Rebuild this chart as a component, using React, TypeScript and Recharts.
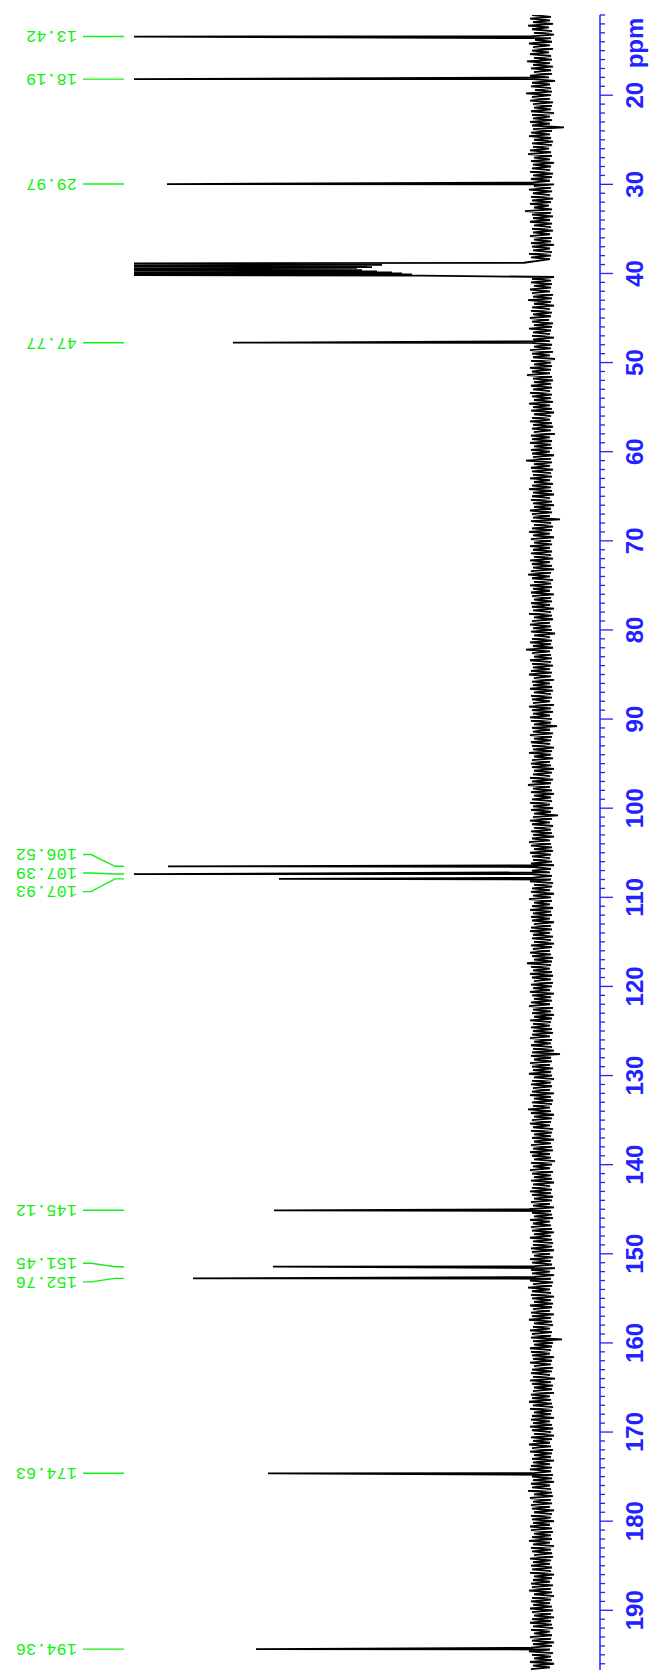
import React from 'react';
import { ComposedChart, Line, Scatter, XAxis, YAxis } from 'recharts';

// ---------- data ----------
// 13C peaks (ppm) and their drawn intensities (408 = clipped at the plot edge)
const peakPpm = [13.42, 18.19, 29.97, 47.77, 106.52, 107.39, 107.93, 145.12, 151.45, 152.76, 174.63, 194.36];
const peakIntensity = [408, 408, 375, 309, 374, 408, 263, 268, 269, 349, 274, 286];

// DMSO-d6 solvent multiplet: densely sampled, clipped trace
const solventPpm = [
  38.8, 38.86, 38.92, 38.98, 39.04, 39.1, 39.16, 39.22, 39.28, 39.34, 39.4, 39.46, 39.52,
  39.58, 39.64, 39.7, 39.76, 39.82, 39.88, 39.94, 40.0, 40.06, 40.12, 40.18, 40.24,
];
const solventIntensity = [
  18, 408, 168, 408, 160, 408, 175, 408, 170, 408, 185, 408, 190,
  408, 180, 408, 165, 408, 150, 408, 140, 408, 130, 408, 120,
];
const solventGap = [38.5, 40.35];

// baseline noise, sampled every 0.2 ppm starting at 11.0 ppm
const noiseStart = 11.0;
const noiseStep = 0.2;
const noise = [
  10,-9,12,-8,9,-11,14,-7,10,-10,8,-12,11,-9,7,-10,13,-8,9,-11,10,-7,12,-9,8,-10,15,-8,9,-11,
  11,-9,8,-10,12,-7,9,-13,10,-8,11,-9,7,-10,16,-9,10,-8,12,-11,9,-10,8,-9,11,-12,10,-8,9,-10,
  12,-8,10,-22,9,-10,11,-8,13,-9,8,-11,10,-10,9,-7,12,-9,14,-10,8,-8,11,-12,9,-9,10,-8,12,-11,
  9,-10,11,-8,10,-12,8,-9,13,-10,9,-8,11,-11,10,-9,12,-7,8,-10,17,-9,10,-11,9,-8,12,-10,8,-9,
  10,-11,9,-8,12,-10,8,-9,11,-12,10,-8,9,-10,13,-9,11,-8,9,-9,9,-9,9,-9,9,-9,9,-12,10,-9,
  11,-10,8,-9,12,-8,10,-11,9,-10,14,-9,8,-12,10,-8,11,-10,9,-9,12,-7,10,-11,8,-10,13,-9,9,-8,
  10,-12,9,-8,11,-10,8,-9,12,-11,10,-8,9,-13,11,-9,8,-10,12,-9,10,-8,15,-10,9,-11,8,-9,11,-10,
  9,-8,12,-10,10,-9,8,-11,13,-8,9,-10,11,-12,8,-9,10,-8,12,-10,9,-11,10,-9,8,-13,11,-8,10,-10,
  12,-9,8,-10,11,-8,10,-12,9,-9,16,-10,8,-8,11,-11,10,-9,9,-10,12,-8,8,-11,10,-9,13,-10,9,-12,
  10,-8,11,-10,9,-12,8,-9,12,-10,10,-8,9,-18,11,-9,8,-11,10,-10,13,-8,9,-12,11,-9,8,-10,12,-8,
  9,-10,11,-9,8,-11,12,-8,10,-10,9,-12,11,-9,14,-8,10,-11,8,-9,12,-10,9,-8,11,-12,10,-9,8,-10,
  11,-8,10,-12,9,-9,13,-10,8,-11,10,-8,12,-9,9,-10,11,-13,8,-8,10,-10,12,-9,9,-11,16,-8,10,-9,
  8,-10,12,-9,10,-11,9,-8,11,-10,13,-9,8,-12,10,-8,9,-10,12,-11,8,-9,11,-10,10,-8,9,-12,13,-9,
  10,-11,9,-8,12,-10,11,-9,8,-15,10,-8,9,-11,12,-10,8,-9,11,-8,10,-12,9,-10,13,-9,8,-11,10,-8,
  11,-9,10,-12,8,-10,9,-8,12,-11,10,-9,14,-8,9,-10,11,-12,8,-9,10,-10,12,-8,9,-11,11,-9,8,-16,
  9,-10,12,-8,10,-11,8,-9,11,-10,9,-12,10,-8,13,-9,11,-10,8,-11,12,-9,10,-8,9,-10,11,-12,8,-9,
  10,-8,11,-10,9,-9,12,-11,8,-10,10,-8,11,-12,9,-9,13,-10,8,-8,10,-11,12,-9,9,-10,11,-8,10,-12,
  8,-9,11,-10,12,-8,9,-11,10,-9,8,-12,11,-10,9,-8,12,-9,10,-11,8,-10,15,-9,11,-8,9,-10,12,-11,
  10,-9,8,-11,11,-10,9,-8,12,-12,10,-9,8,-10,11,-8,13,-11,9,-9,10,-12,8,-10,12,-9,9,-8,11,-10,
  9,-11,10,-8,12,-10,8,-9,11,-10,9,-12,10,-18,11,-9,8,-10,12,-8,10,-11,9,-9,13,-10,8,-12,10,-9,
  11,-10,9,-8,10,-12,12,-9,8,-11,10,-10,9,-8,14,-9,11,-12,8,-10,10,-9,12,-8,9,-11,11,-10,8,-9,
  10,-12,8,-9,11,-10,9,-11,12,-8,10,-9,8,-13,11,-10,9,-8,12,-11,10,-9,8,-10,11,-12,9,-8,10,-10,
  12,-9,10,-11,8,-10,11,-8,9,-12,13,-9,10,-10,8,-11,12,-8,9,-9,11,-10,10,-12,8,-9,12,-10,9,-11,
  9,-10,11,-12,10,-8,8,-11,12,-9,10,-10,9,-13,11,-8,10,-12,8,-9,12,-11,9,-10,14,-8,10,-9,11,-12,
  10,-9,8,-11,12,-10,9,-8,11,-12,10,-9,13,-10,8,-11,9,-8,12,-10,10,-9,11,-20,9,-11,8,-10,12,-9,
  11,-8,10,-12,9,-10,12,-9,8,-11,10,-10,11,-8,9,-13,12,-9,10,-11,8,-10,9,-12,11,-8,10,-9,13,-10,
  9,-11,12,-10,8,-9,10,-12,11,-8,9,-10,12,-11,10,-9,8,-12,11,-10,9,-8,13,-9,10,-11,12,-10,8,-9,
  10,-12,9,-8,11,-10,12,-9,8,-11,10,-10,9,-12,11,-8,10,-9,14,-10,8,-11,12,-9,9,-10,11,-8,10,-12,
  8,-10,11,-9,10,-12,9,-8,12,-10,11,-11,8,-9,10,-10,13,-8,9,-12,11,-9,10,-10,8,-11,12,-9,9,-8,
  11,-10,10,-9,12,-12,8,-10,9,-8,11,-11,10,-9,13,-10,8,-12,10,-9,11,-8,9,-10,12,-11,10,-9,8,-12,
  10,-9,12,-10,9,-11,11,-8,8,-10,12,-9,10,-12,9,-10,11,-8,13,-11,10,-9,8,-10,12,-12,9,-8,11,-10,
];

// axis ticks (ppm)
const majorTicks = [20, 30, 40, 50, 60, 70, 80, 90, 100, 110, 120, 130, 140, 150, 160, 170, 180, 190];
const ppmDomain = [11, 196.7];
const axisTitle = 'ppm';

// ---------- styles / layout ----------
const BLUE = '#2222ff';
const GREEN = '#14f014';
const W = 652;
const H = 1670;
const LABEL_GAP_PPM = 2.08;
const LABEL_V = 465; // text anchor column (intensity units)
const LEADER_V = [459, 451, 427, 418];

// ---------- derived tables ----------
type Row = { ppm: number; v: number };

const spectrum: Row[] = (() => {
  const rows: Row[] = [];
  noise.forEach((val, i) => {
    const p = +(noiseStart + i * noiseStep).toFixed(3);
    if (p > solventGap[0] && p < solventGap[1]) return;
    rows.push({ ppm: p, v: val });
  });
  peakPpm.forEach((p, i) => rows.push({ ppm: p, v: peakIntensity[i] }));
  solventPpm.forEach((p, i) => rows.push({ ppm: p, v: solventIntensity[i] }));
  rows.sort((a, b) => a.ppm - b.ppm);
  return rows;
})();

function layoutLabels(ppms: number[], gap: number): number[] {
  let clusters = ppms.map((p, i) => ({ start: i, end: i, center: p }));
  let changed = true;
  while (changed) {
    changed = false;
    for (let k = 0; k < clusters.length - 1; k++) {
      const a = clusters[k];
      const b = clusters[k + 1];
      const aBottom = a.center + ((a.end - a.start) / 2) * gap;
      const bTop = b.center - ((b.end - b.start) / 2) * gap;
      if (bTop - aBottom < gap) {
        const members = ppms.slice(a.start, b.end + 1);
        const mean = members.reduce((s, x) => s + x, 0) / members.length;
        clusters.splice(k, 2, { start: a.start, end: b.end, center: mean });
        changed = true;
        break;
      }
    }
  }
  const out = [...ppms];
  clusters.forEach((c) => {
    const n = c.end - c.start + 1;
    for (let i = 0; i < n; i++) out[c.start + i] = c.center + (i - (n - 1) / 2) * gap;
  });
  return out;
}

const labelPpm = layoutLabels(peakPpm, LABEL_GAP_PPM);

const labelData = peakPpm.map((p, i) => ({ ppm: labelPpm[i], v: LABEL_V, text: p.toFixed(2) }));

const leaders: Row[][] = peakPpm.map((p, i) => [
  { ppm: labelPpm[i], v: LEADER_V[0] },
  { ppm: labelPpm[i], v: LEADER_V[1] },
  { ppm: p, v: LEADER_V[2] },
  { ppm: p, v: LEADER_V[3] },
]);

const allTicks: number[] = [];
for (let t = Math.ceil(ppmDomain[0]); t <= Math.floor(ppmDomain[1]); t++) allTicks.push(t);

// ---------- render helpers ----------
const AxisTick = (props: any) => {
  const { x, y, payload } = props;
  const val = payload.value as number;
  const major = majorTicks.includes(val);
  return (
    <g>
      <line x1={x} y1={y} x2={x + (major ? 13 : 5)} y2={y} stroke={BLUE} strokeWidth={1.3} />
      {major && (
        <text
          transform={`translate(${x + 43},${y}) rotate(-90)`}
          textAnchor="middle"
          fill={BLUE}
          fontSize={24}
          fontWeight="bold"
          fontFamily="'Liberation Sans', Arial, sans-serif"
        >
          {val}
        </text>
      )}
    </g>
  );
};

const AxisTitle = (props: any) => {
  const vb = props.viewBox || { x: 600, y: 15 };
  return (
    <text
      transform={`translate(${vb.x + 43},${vb.y + 28}) rotate(-90)`}
      textAnchor="middle"
      fill={BLUE}
      fontSize={24}
      fontWeight="bold"
      fontFamily="'Liberation Sans', Arial, sans-serif"
    >
      {axisTitle}
    </text>
  );
};

const PeakLabel = (props: any) => {
  const { cx, cy, payload } = props;
  if (cx == null || cy == null) return null;
  return (
    <text
      x={cx}
      y={cy + 5.2}
      transform={`rotate(180, ${cx}, ${cy})`}
      textAnchor="start"
      fill={GREEN}
      fontSize={17}
      fontFamily="'Liberation Mono', 'Courier New', monospace"
    >
      {payload.text}
    </text>
  );
};

export default function App() {
  return (
    <div style={{ position: 'absolute', left: 0, top: 0, width: W, height: H, background: '#fff' }}>
      <ComposedChart
        layout="vertical"
        width={W}
        height={H}
        margin={{ top: 15, right: 0, bottom: 0, left: 0 }}
      >
        <XAxis type="number" dataKey="v" domain={[-58, 542]} reversed hide allowDataOverflow />
        <YAxis
          type="number"
          dataKey="ppm"
          orientation="right"
          domain={ppmDomain}
          allowDataOverflow
          width={52}
          ticks={allTicks}
          interval={0}
          tickSize={0}
          tickMargin={0}
          tickLine={false}
          axisLine={{ stroke: BLUE, strokeWidth: 1.5 }}
          tick={<AxisTick />}
          label={{ value: axisTitle, content: (p: any) => <AxisTitle {...p} /> }}
        />
        <Line
          data={spectrum}
          dataKey="v"
          stroke="#000"
          strokeWidth={1.8}
          dot={false}
          isAnimationActive={false}
        />
        {leaders.map((seg, i) => (
          <Line
            key={`leader-${i}`}
            data={seg}
            dataKey="v"
            stroke={GREEN}
            strokeWidth={1.4}
            dot={false}
            isAnimationActive={false}
          />
        ))}
        <Scatter data={labelData} dataKey="v" shape={<PeakLabel />} isAnimationActive={false} />
      </ComposedChart>
    </div>
  );
}
